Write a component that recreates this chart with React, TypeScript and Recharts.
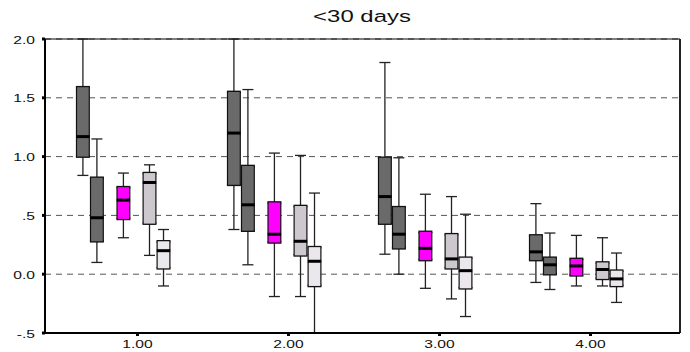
import React from 'react'
import { ComposedChart, Scatter, ErrorBar, XAxis, YAxis, CartesianGrid, ReferenceLine } from 'recharts'

const groups = [1, 2, 3, 4]
const groupLabels = ['1.00', '2.00', '3.00', '4.00']
const yTicks = [-0.5, 0, 0.5, 1, 1.5, 2]
const yTickLabels = ['-.5', '0.0', '.5', '1.0', '1.5', '2.0']

// five-number summaries per group: [min, q1, median, q3, max]
// whiskers that run off the plot are read as ending at the frame
const darkA = [
  [0.84, 1.0, 1.17, 1.59, 2.0],
  [0.38, 0.76, 1.2, 1.55, 2.0],
  [0.17, 0.43, 0.66, 0.99, 1.8],
  [-0.07, 0.12, 0.19, 0.33, 0.6],
]
const darkB = [
  [0.1, 0.28, 0.48, 0.82, 1.15],
  [0.08, 0.37, 0.59, 0.92, 1.57],
  [0.0, 0.22, 0.34, 0.57, 0.99],
  [-0.13, 0.0, 0.08, 0.14, 0.35],
]
const magenta = [
  [0.31, 0.47, 0.63, 0.74, 0.86],
  [-0.19, 0.27, 0.34, 0.61, 1.03],
  [-0.12, 0.12, 0.22, 0.36, 0.68],
  [-0.1, -0.01, 0.07, 0.13, 0.33],
]
const lightGray = [
  [0.16, 0.43, 0.78, 0.86, 0.93],
  [-0.19, 0.16, 0.28, 0.58, 1.01],
  [-0.21, 0.05, 0.13, 0.34, 0.66],
  [-0.1, -0.04, 0.04, 0.1, 0.31],
]
const paleGray = [
  [-0.1, 0.05, 0.2, 0.28, 0.38],
  [-0.5, -0.1, 0.11, 0.23, 0.69],
  [-0.36, -0.12, 0.03, 0.14, 0.51],
  [-0.24, -0.1, -0.04, 0.03, 0.18],
]

const seriesList = [
  { name: 'darkA', stats: darkA, fill: '#6a6a6a' },
  { name: 'darkB', stats: darkB, fill: '#6a6a6a' },
  { name: 'magenta', stats: magenta, fill: '#ff00ff' },
  { name: 'lightGray', stats: lightGray, fill: '#cdc8cd' },
  { name: 'paleGray', stats: paleGray, fill: '#eae8ec' },
]

// horizontal slot of each series inside a group (axis units)
const slotOffsets = [-0.3616, -0.2689, -0.0934, 0.0795, 0.1722]
const xDomain = [0.3874, 4.5927]

const FONT = '"Liberation Sans", Arial, sans-serif'
const STRETCH = 1.42

function buildRows(stats: number[][], offset: number) {
  return groups.map((g, i) => {
    const [mn, q1, md, q3, mx] = stats[i]
    return { x: g + offset, median: md, whisker: [md - mn, mx - md], box: [md - q1, q3 - md] }
  })
}

function YTick(props: any) {
  const { x, y, payload } = props
  const label = yTickLabels[yTicks.indexOf(payload.value)]
  return (
    <text transform={`translate(${x},${y}) scale(${STRETCH},1)`} textAnchor="end" dy={4.5} fontSize={11} fontFamily={FONT} fill="#111">
      {label}
    </text>
  )
}

function XTick(props: any) {
  const { x, y, payload } = props
  const label = groupLabels[groups.indexOf(payload.value)]
  return (
    <text transform={`translate(${x},${y}) scale(${STRETCH},1)`} textAnchor="middle" dy={10.5} fontSize={11} fontFamily={FONT} fill="#111">
      {label}
    </text>
  )
}

const MedianMark = (p: any) => <rect x={p.cx - 6.7} y={p.cy - 1.5} width={13.4} height={3} fill="#000" />

export default function App() {
  return (
    <div style={{ position: 'absolute', left: 0, top: 0, width: 690, height: 352, background: '#fff' }}>
      <svg width={690} height={30} style={{ position: 'absolute', left: 0, top: 0 }}>
        <text transform={`translate(362,22) scale(1.45,1)`} textAnchor="middle" fontSize={16.5} fontFamily={FONT} fill="#111">
          {'<30 days'}
        </text>
      </svg>
      <ComposedChart width={690} height={352} margin={{ top: 39, right: 10, bottom: 0, left: 0 }}>
        <CartesianGrid vertical={false} stroke="#555" strokeDasharray="6 5" />
        <XAxis
          type="number"
          dataKey="x"
          domain={xDomain}
          ticks={groups}
          allowDataOverflow
          height={19}
          tickSize={3}
          tickMargin={2}
          axisLine={{ stroke: '#000', strokeWidth: 2 }}
          tickLine={{ stroke: '#000', strokeWidth: 3 }}
          tick={<XTick />}
        />
        <YAxis
          type="number"
          dataKey="median"
          domain={[-0.5, 2]}
          ticks={yTicks}
          allowDataOverflow
          width={45}
          tickSize={3}
          tickMargin={7}
          axisLine={{ stroke: '#000', strokeWidth: 2 }}
          tickLine={{ stroke: '#000', strokeWidth: 3 }}
          tick={<YTick />}
        />
        <ReferenceLine y={2} stroke="#000" strokeWidth={1} />
        <ReferenceLine x={xDomain[1]} stroke="#222" strokeWidth={2} />
        {seriesList.map((s, i) => (
          <Scatter
            key={s.name}
            name={s.name}
            data={buildRows(s.stats, slotOffsets[i])}
            shape={MedianMark}
            isAnimationActive={false}
          >
            <ErrorBar dataKey="whisker" direction="y" width={5.5} stroke="#222" strokeWidth={1.3} isAnimationActive={false} />
            <ErrorBar dataKey="box" direction="y" width={0} stroke="#111" strokeWidth={14} isAnimationActive={false} />
            <ErrorBar dataKey="box" direction="y" width={7} stroke="#111" strokeWidth={2.6} isAnimationActive={false} />
            <ErrorBar dataKey="box" direction="y" width={0} stroke={s.fill} strokeWidth={11.6} isAnimationActive={false} />
          </Scatter>
        ))}
      </ComposedChart>
    </div>
  )
}
